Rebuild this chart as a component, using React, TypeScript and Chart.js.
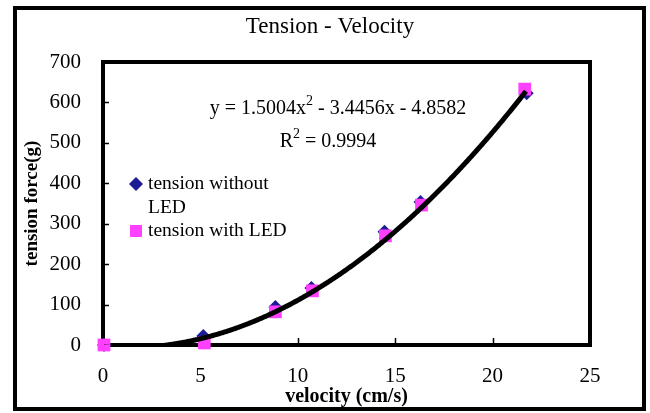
import React, { useEffect, useRef } from "react";
import { Chart, registerables } from "chart.js";

Chart.register(...registerables);

// ---- Data ----
const VELOCITY_NO_LED = [0.05, 5.15, 8.85, 10.7, 14.45, 16.3, 21.75];
const TENSION_NO_LED = [0, 22, 94, 141, 280, 354, 623];
const VELOCITY_LED = [0.05, 5.2, 8.85, 10.75, 14.5, 16.35, 21.65];
const TENSION_LED = [0, 5, 82, 134, 270, 346, 633];
const SERIES_LABELS = ["tension without LED", "tension with LED"];
// Polynomial trendline shown on the chart: a*x^2 + b*x + c
const TREND_COEFFS = [1.5004, -3.4456, -4.8582];
const EQUATION_PARTS = ["y = 1.5004x", "2", " - 3.4456x - 4.8582"];
const R2_PARTS = ["R", "2", " = 0.9994"];
const X_TICKS = [0, 5, 10, 15, 20, 25];
const Y_TICKS = [0, 100, 200, 300, 400, 500, 600, 700];
const TITLE = "Tension - Velocity";
const X_TITLE = "velocity (cm/s)";
const Y_TITLE = "tension force(g)";

const SERIF = "'Liberation Serif', 'Times New Roman', serif";
const NAVY = "#1c1c94";
const MAGENTA = "#ff40ff";

function drawSupText(ctx: CanvasRenderingContext2D, parts: string[], cx: number, baseline: number, size: number) {
  ctx.save();
  ctx.textBaseline = "alphabetic";
  ctx.textAlign = "left";
  const big = `${size}px ${SERIF}`;
  const small = `${Math.round(size * 0.7)}px ${SERIF}`;
  ctx.font = big;
  const w0 = ctx.measureText(parts[0]).width;
  const w2 = ctx.measureText(parts[2]).width;
  ctx.font = small;
  const w1 = ctx.measureText(parts[1]).width;
  let x = cx - (w0 + w1 + w2) / 2;
  ctx.fillStyle = "#000";
  ctx.font = big;
  ctx.fillText(parts[0], x, baseline);
  x += w0;
  ctx.font = small;
  ctx.fillText(parts[1], x, baseline - size * 0.45);
  x += w1;
  ctx.font = big;
  ctx.fillText(parts[2], x, baseline);
  ctx.restore();
}

const framePlugin = {
  id: "frame",
  beforeDraw(chart: any) {
    const { ctx, width, height } = chart;
    ctx.save();
    ctx.fillStyle = "#fff";
    ctx.fillRect(0, 0, width, height);
    ctx.strokeStyle = "#000";
    ctx.lineWidth = 4;
    ctx.strokeRect(15, 8, 629, 401);
    ctx.restore();
  },
  beforeDatasetsDraw(chart: any) {
    const { ctx, chartArea: a, scales } = chart;
    ctx.save();
    ctx.strokeStyle = "#000";
    // inward tick marks
    ctx.lineWidth = 1.5;
    ctx.beginPath();
    X_TICKS.forEach((v) => {
      const px = Math.round(scales.x.getPixelForValue(v)) + 0.5;
      ctx.moveTo(px, a.bottom);
      ctx.lineTo(px, a.bottom - 7);
    });
    Y_TICKS.forEach((v) => {
      const py = Math.round(scales.y.getPixelForValue(v)) + 0.5;
      ctx.moveTo(a.left, py);
      ctx.lineTo(a.left + 6, py);
    });
    ctx.stroke();
    // plot box
    ctx.lineWidth = 4;
    ctx.strokeRect(a.left, a.top, a.right - a.left, a.bottom - a.top);
    ctx.restore();
  },
  afterDatasetsDraw(chart: any) {
    const { ctx, chartArea: a, scales } = chart;
    const xs = [...VELOCITY_NO_LED, ...VELOCITY_LED];
    const xmin = Math.min(...xs);
    const xmax = Math.max(...xs);
    const [qa, qb, qc] = TREND_COEFFS;
    ctx.save();
    ctx.beginPath();
    ctx.rect(a.left, a.top, a.right - a.left, a.bottom - a.top);
    ctx.clip();
    ctx.strokeStyle = "#000";
    ctx.lineWidth = 5;
    ctx.lineJoin = "round";
    ctx.beginPath();
    const p0 = scales.x.getPixelForValue(xmin);
    const p1 = scales.x.getPixelForValue(xmax);
    for (let px = p0; px <= p1 + 0.01; px += 1) {
      const xv = scales.x.getValueForPixel(Math.min(px, p1));
      const yv = qa * xv * xv + qb * xv + qc;
      const py = scales.y.getPixelForValue(yv);
      if (px === p0) ctx.moveTo(px, py);
      else ctx.lineTo(Math.min(px, p1), py);
    }
    ctx.stroke();
    ctx.restore();
  },
  afterDraw(chart: any) {
    const { ctx, chartArea: a } = chart;
    ctx.save();
    ctx.fillStyle = "#000";
    // chart title
    ctx.font = `23px ${SERIF}`;
    ctx.textAlign = "center";
    ctx.textBaseline = "middle";
    ctx.fillText(TITLE, 330, 27);
    // axis titles
    ctx.font = `bold 20px ${SERIF}`;
    ctx.fillText(X_TITLE, (a.left + a.right) / 2, 397);
    ctx.font = `bold 19px ${SERIF}`;
    ctx.save();
    ctx.translate(32, (a.top + a.bottom) / 2);
    ctx.rotate(-Math.PI / 2);
    ctx.fillText(Y_TITLE, 0, 0);
    ctx.restore();
    // trendline equation
    drawSupText(ctx, EQUATION_PARTS, 338, 114, 20);
    drawSupText(ctx, R2_PARTS, 328, 147, 20);
    // legend
    const fontSize = 19.5;
    ctx.font = `${fontSize}px ${SERIF}`;
    ctx.textAlign = "left";
    ctx.textBaseline = "middle";
    const maxW = 145;
    let y = 184;
    chart.data.datasets.forEach((ds: any) => {
      const words = ds.label.split(" ");
      const lines: string[] = [];
      let cur = "";
      words.forEach((w: string) => {
        const t = cur ? cur + " " + w : w;
        if (ctx.measureText(t).width > maxW && cur) {
          lines.push(cur);
          cur = w;
        } else cur = t;
      });
      if (cur) lines.push(cur);
      ctx.fillStyle = ds.backgroundColor;
      if (ds.pointStyle === "rectRot") {
        ctx.beginPath();
        ctx.moveTo(136, y - 7);
        ctx.lineTo(143, y);
        ctx.lineTo(136, y + 7);
        ctx.lineTo(129, y);
        ctx.closePath();
        ctx.fill();
      } else {
        ctx.fillRect(130, y - 6, 12, 12);
      }
      ctx.fillStyle = "#000";
      lines.forEach((ln, i) => {
        ctx.fillText(ln, 148, y + i * 24);
      });
      y += lines.length * 24 - 1;
    });
    ctx.restore();
  },
};

export default function App() {
  const ref = useRef<HTMLCanvasElement | null>(null);
  useEffect(() => {
    document.body.style.margin = "0";
    if (!ref.current) return;
    const chart = new Chart(ref.current, {
      type: "scatter",
      data: {
        datasets: [
          {
            label: SERIES_LABELS[0],
            data: VELOCITY_NO_LED.map((x, i) => ({ x, y: TENSION_NO_LED[i] })),
            pointStyle: "rectRot",
            pointRadius: 7,
            pointHoverRadius: 7,
            backgroundColor: NAVY,
            borderColor: NAVY,
            borderWidth: 0,
            order: 2,
            clip: false,
          } as any,
          {
            label: SERIES_LABELS[1],
            data: VELOCITY_LED.map((x, i) => ({ x, y: TENSION_LED[i] })),
            pointStyle: "rect",
            pointRadius: 9,
            pointHoverRadius: 9,
            backgroundColor: MAGENTA,
            borderColor: MAGENTA,
            borderWidth: 0,
            order: 1,
            clip: false,
          } as any,
        ],
      },
      options: {
        animation: false,
        responsive: false,
        events: [],
        layout: { padding: { top: 62, right: 60, bottom: 0, left: 0 } },
        plugins: {
          legend: { display: false },
          title: { display: false },
          tooltip: { enabled: false },
        },
        scales: {
          x: {
            type: "linear",
            min: X_TICKS[0],
            max: X_TICKS[X_TICKS.length - 1],
            afterBuildTicks: (s: any) => {
              s.ticks = X_TICKS.map((v) => ({ value: v }));
            },
            afterFit: (s: any) => {
              s.height = 68;
            },
            grid: { display: false, drawTicks: false },
            border: { display: false },
            ticks: { color: "#000", font: { family: SERIF, size: 21 }, padding: 19, maxRotation: 0 },
          },
          y: {
            type: "linear",
            min: Y_TICKS[0],
            max: Y_TICKS[Y_TICKS.length - 1],
            afterBuildTicks: (s: any) => {
              s.ticks = Y_TICKS.map((v) => ({ value: v }));
            },
            afterFit: (s: any) => {
              s.width = 103;
            },
            grid: { display: false, drawTicks: false },
            border: { display: false },
            ticks: { color: "#000", font: { family: SERIF, size: 21 }, padding: 22 },
          },
        },
      },
      plugins: [framePlugin],
    });
    return () => chart.destroy();
  }, []);
  return (
    <div style={{ width: 650, height: 413 }}>
      <canvas ref={ref} width={650} height={413} style={{ display: "block" }} />
    </div>
  );
}
